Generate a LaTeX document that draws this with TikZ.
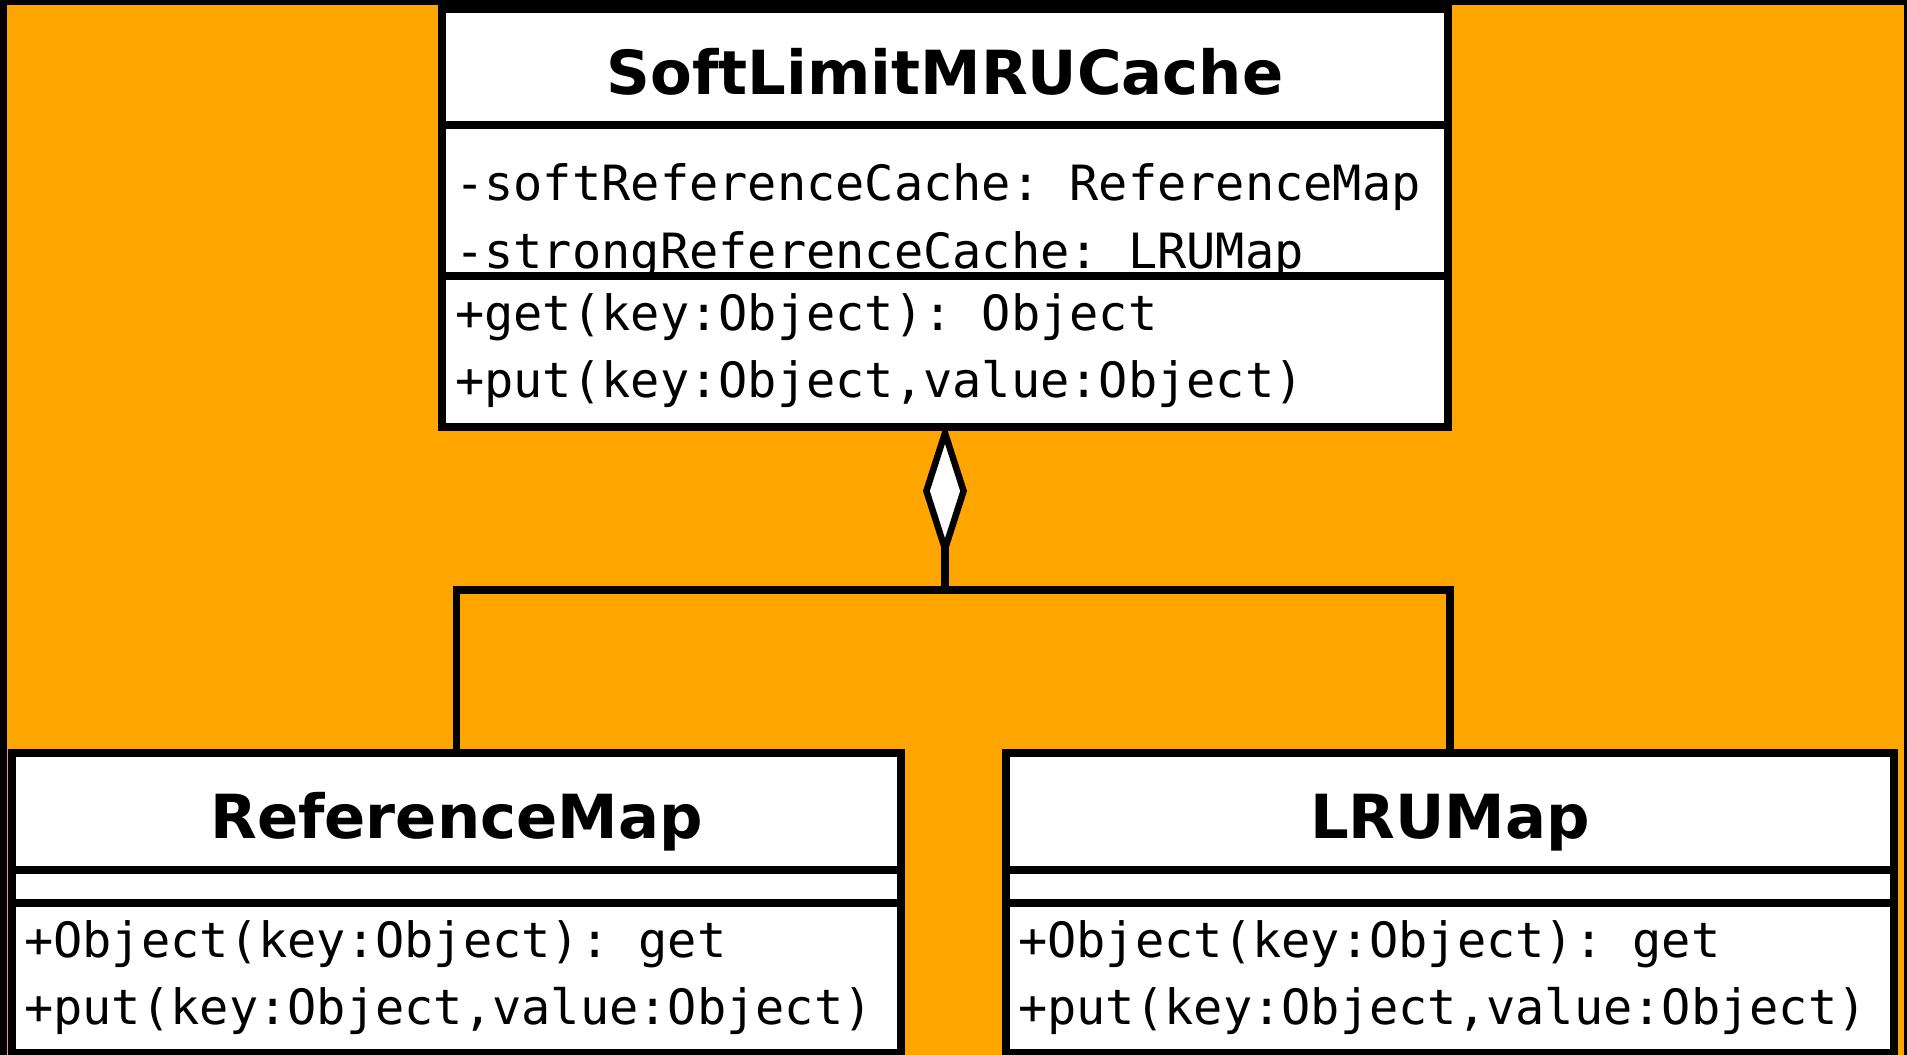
\documentclass[tikz,border=0pt]{standalone}
\usepackage{fontspec}
\setmainfont{DejaVu Sans}
\setmonofont{DejaVu Sans Mono}
\usetikzlibrary{arrows.meta,positioning}
\definecolor{canvas}{HTML}{FFA500}

\begin{document}
\begin{tikzpicture}[x=1pt,y=1pt,yscale=-1,
  classbox/.style={draw, fill=white, line width=8pt, inner sep=0pt, outer sep=0pt, anchor=north west},
  classname/.style={anchor=base, inner sep=0pt, font=\fontsize{60.8}{61}\selectfont\bfseries},
  member/.style={anchor=base west, inner sep=0pt, font=\fontsize{48.6}{49}\selectfont\ttfamily},
  link/.style={line width=7.5pt}]
\useasboundingbox (0,0) rectangle (1907,1055);
\fill[black] (0,0) rectangle (1907,1055);
\fill[canvas] (7,5) rectangle (1904,1055);

% Class SoftLimitMRUCache
\node[classbox, minimum width=1006pt, minimum height=417.5pt] (cache) at (442,9) {};
\node[classname] (cachename) at (945,94) {SoftLimitMRUCache};
\node[member] (softref) at (455,200) {-softReferenceCache: ReferenceMap};
\node[member] (strongref) at (455,268) {-strongReferenceCache: LRUMap};
\draw[line width=8pt] (442,125) -- (1448,125);
\draw[line width=8pt] (442,276) -- (1448,276);
\node[member] (cacheget) at (455,330) {+get(key:Object): Object};
\node[member] (cacheput) at (455,397) {+put(key:Object,value:Object)};

% Class ReferenceMap
\node[classbox, minimum width=889pt, minimum height=300.5pt] (refmap) at (12,752.5) {};
\node[classname] (refmapname) at (456.5,838) {ReferenceMap};
\draw[line width=8pt] (12,869.5) -- (901,869.5);
\draw[line width=8pt] (12,903) -- (901,903);
\node[member] (refmapget) at (24,957) {+Object(key:Object): get};
\node[member] (refmapput) at (24,1024) {+put(key:Object,value:Object)};

% Class LRUMap
\node[classbox, minimum width=888pt, minimum height=300.5pt] (lrumap) at (1006,752.5) {};
\node[classname] (lrumapname) at (1450,838) {LRUMap};
\draw[line width=8pt] (1006,869.5) -- (1894,869.5);
\draw[line width=8pt] (1006,903) -- (1894,903);
\node[member] (lrumapget) at (1018,957) {+Object(key:Object): get};
\node[member] (lrumapput) at (1018,1024) {+put(key:Object,value:Object)};

% Aggregation
\coordinate (joint) at (945,590);
\draw[link] (refmap.north) |- (joint) -| (lrumap.north);
\draw[link, -{Diamond[length=137pt, width=44pt, fill=white, line width=6.5pt]}] (joint) -- ([yshift=-4pt]cache.south);

\end{tikzpicture}
\end{document}
